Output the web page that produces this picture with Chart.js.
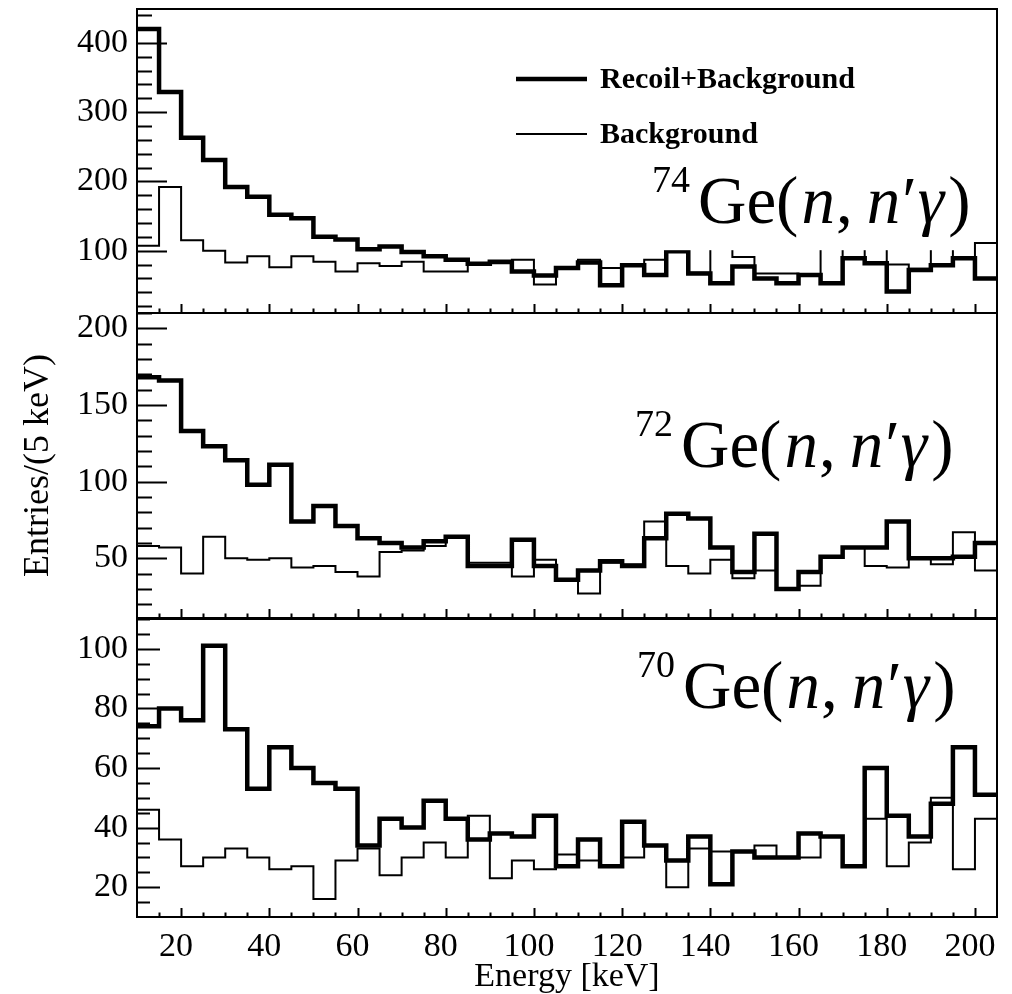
<!DOCTYPE html>
<html>
<head>
<meta charset="utf-8">
<script src="https://cdn.jsdelivr.net/npm/chart.js@4.4.1/dist/chart.umd.min.js"></script>
<style>
  html, body { margin: 0; padding: 0; background: #fff; }
  #wrap { position: relative; width: 1012px; height: 994px; }
  canvas { position: absolute; left: 0; top: 0; }
</style>
</head>
<body>
<div id="wrap">
  <canvas id="ge74" width="1012" height="994"></canvas>
  <canvas id="ge72" width="1012" height="994"></canvas>
  <canvas id="ge70" width="1012" height="994"></canvas>
</div>
<script>
// Lower edges of the 5 keV energy bins, and the upper edge of the last bin
const binLow = [10, 15, 20, 25, 30, 35, 40, 45, 50, 55, 60, 65, 70, 75, 80, 85, 90, 95, 100,
                105, 110, 115, 120, 125, 130, 135, 140, 145, 150, 155, 160, 165, 170, 175,
                180, 185, 190, 195, 200];
const binHigh = 205;
const energyTicks = [20, 40, 60, 80, 100, 120, 140, 160, 180, 200];

// 74Ge(n,n'gamma): entries per bin
const ge74Total = [420, 329, 263, 231, 192, 178, 152, 147, 120, 116, 102, 106, 98, 92, 87, 81, 84, 70, 64,
                   75, 83, 50, 79, 65, 99, 67, 53, 77, 60, 53, 65, 53, 89, 82, 41, 72, 79, 89, 60];
const ge74Bkg   = [107, 192, 115, 100, 83, 92, 76, 92, 84, 70, 82, 78, 84, 70, 70, 82, 82, 87, 51,
                   75, 87, 75, 79, 87, 100, 68, 108, 91, 67, 67, 65, 108, 88, 108, 80, 74, 108, 89, 111];
const ge74Ticks = [100, 200, 300, 400];

// 72Ge(n,n'gamma)
const ge72Total = [168, 166, 133, 123, 114, 98, 111, 74, 84, 71, 63, 60, 57, 61, 64, 45, 45, 62, 45,
                   36, 42, 48, 45, 63, 79, 76, 57, 41, 66, 30, 41, 51, 57, 57, 74, 50, 50, 51, 60];
const ge72Bkg   = [58, 57, 40, 64, 50, 49, 50, 44, 45, 41, 38, 54, 55, 58, 64, 47, 47, 38, 49,
                   36, 27, 47, 46, 74, 45, 40, 49, 37, 42, 30, 32, 51, 57, 45, 44, 50, 46, 67, 42];
const ge72Ticks = [50, 100, 150, 200];

// 70Ge(n,n'gamma)
const ge70Total = [74, 80, 76, 101, 73, 53, 67, 60, 55, 53, 34, 43, 40, 49, 43, 36, 38, 37, 44,
                   27, 36, 27, 42, 34, 29, 37, 21, 32, 30, 30, 38, 37, 27, 60, 44, 37, 48, 67, 51];
const ge70Bkg   = [46, 36, 27, 30, 33, 30, 26, 27, 16, 29, 33, 24, 30, 35, 30, 44, 23, 29, 26,
                   31, 29, 27, 30, 34, 20, 33, 32, 32, 34, 30, 30, 37, 27, 43, 27, 35, 50, 26, 43];
const ge70Ticks = [20, 40, 60, 80, 100];

const SERIF = '"Liberation Serif", "Times New Roman", serif';

// histogram outline: one point per lower edge, plus the closing upper edge
function histPoints(values) {
  const pts = binLow.map((e, i) => ({ x: e, y: values[i] }));
  pts.push({ x: binHigh, y: values[values.length - 1] });
  return pts;
}

function drawReaction(ctx, r) {
  ctx.fillStyle = '#000';
  ctx.textAlign = 'left';
  ctx.textBaseline = 'alphabetic';
  let x = r.x;
  ctx.font = '38px ' + SERIF;
  ctx.fillText(r.mass, x, r.base - 31);
  x += ctx.measureText(r.mass).width + 8;
  const pieces = [
    ['Ge(', '', 3], ['n', 'italic ', 1], [',', '', 14], ['n', 'italic ', 2],
    ['\u2032', '', 1], ['\u03b3', 'italic ', 4], [')', '', 0]
  ];
  for (const [t, st, gap] of pieces) {
    ctx.font = st + '67px ' + SERIF;
    ctx.fillText(t, x, r.base);
    x += ctx.measureText(t).width + gap;
  }
}

const decor = {
  id: 'decor',
  afterDraw(chart, args, o) {
    const { ctx, chartArea: a } = chart;
    const xs = chart.scales.x, ys = chart.scales.y;
    ctx.save();

    // white pad behind the reaction label
    if (o.mask) {
      const x0 = xs.getPixelForValue(o.mask.from), x1 = xs.getPixelForValue(o.mask.to);
      const y0 = ys.getPixelForValue(o.mask.top), y1 = ys.getPixelForValue(o.mask.bottom);
      ctx.fillStyle = '#fff';
      ctx.fillRect(x0, y0, x1 - x0, y1 - y0);
    }

    // key
    if (o.key) {
      chart.data.datasets.forEach((ds, i) => {
        const k = o.key[i];
        ctx.strokeStyle = '#000';
        ctx.lineWidth = ds.borderWidth;
        ctx.beginPath();
        ctx.moveTo(k.x0, k.y);
        ctx.lineTo(k.x1, k.y);
        ctx.stroke();
        ctx.fillStyle = '#000';
        ctx.font = 'bold 30px ' + SERIF;
        ctx.textAlign = 'left';
        ctx.textBaseline = 'alphabetic';
        ctx.fillText(ds.label, k.tx, k.y + 9);
      });
    }

    if (o.reaction) drawReaction(ctx, o.reaction);

    // tick marks, drawn inside the frame
    ctx.strokeStyle = '#000';
    ctx.lineWidth = 2;
    ctx.beginPath();
    for (let v = 15; v < binHigh; v += 5) {
      const px = Math.round(xs.getPixelForValue(v)) + 0.5;
      const len = (v % 20 === 0) ? 9 : 4.5;
      ctx.moveTo(px, a.bottom);
      ctx.lineTo(px, a.bottom - len);
    }
    for (let v = o.yMinor; v <= ys.max; v += o.yMinor) {
      if (v <= ys.min) continue;
      const py = Math.round(ys.getPixelForValue(v)) + 0.5;
      const len = (v % o.yMajor === 0) ? o.majLen : o.minLen;
      ctx.moveTo(a.left, py);
      ctx.lineTo(a.left + len, py);
    }
    ctx.stroke();

    // frame
    ctx.strokeRect(a.left, a.top, a.right - a.left, a.bottom - a.top);
    ctx.restore();
  }
};

function makePanel(id, p) {
  const showX = !!p.showX;
  return new Chart(document.getElementById(id), {
    type: 'line',
    data: {
      datasets: [
        { label: 'Recoil+Background', data: histPoints(p.total), borderColor: '#000',
          borderWidth: 4.5, stepped: 'before', pointRadius: 0, fill: false, borderJoinStyle: 'miter' },
        { label: 'Background', data: histPoints(p.bkg), borderColor: '#000',
          borderWidth: 2, stepped: 'before', pointRadius: 0, fill: false, borderJoinStyle: 'miter' }
      ]
    },
    options: {
      responsive: false,
      animation: false,
      events: [],
      layout: { padding: { top: p.top, bottom: p.padBottom, left: 0, right: 15 } },
      plugins: {
        legend: { display: false },
        tooltip: { enabled: false },
        decor: p.decor
      },
      scales: {
        x: {
          type: 'linear', min: 10, max: binHigh, display: showX,
          grid: { display: false, drawTicks: false }, border: { display: false },
          afterBuildTicks: s => { s.ticks = energyTicks.map(v => ({ value: v })); },
          afterFit: s => {
            if (showX) s.height = 77;
            s.paddingLeft = 0; s.paddingRight = 0;
          },
          ticks: { color: '#000', font: { family: SERIF, size: 34 }, padding: 10,
                   labelOffset: -5, maxRotation: 0, autoSkip: false },
          title: { display: showX, text: 'Energy [keV]', color: '#000',
                   font: { family: SERIF, size: 34 }, padding: { top: 0, bottom: -3 } }
        },
        y: {
          type: 'linear', min: p.ymin, max: p.ymax,
          grid: { display: false, drawTicks: false }, border: { display: false },
          afterBuildTicks: s => { s.ticks = p.ticks.map(v => ({ value: v })); },
          afterFit: s => {
            s.width = 137;
            s.paddingTop = 0; s.paddingBottom = 0;
          },
          ticks: { color: '#000', font: { family: SERIF, size: 34 }, padding: 9 },
          title: { display: !!p.yTitle, text: p.yTitle || '', color: '#000',
                   font: { family: SERIF, size: 36 }, padding: { top: 17, bottom: 0 } }
        }
      }
    },
    plugins: [decor]
  });
}

makePanel('ge74', {
  total: ge74Total, bkg: ge74Bkg, ticks: ge74Ticks, ymin: 10, ymax: 449,
  top: 9, padBottom: 994 - 313,
  decor: {
    yMinor: 20, yMajor: 100, majLen: 30, minLen: 15,
    mask: { from: 124, to: 199.5, top: 330, bottom: 100.7 },
    key: [ { x0: 516, x1: 587, y: 79, tx: 600 }, { x0: 516, x1: 587, y: 134, tx: 600 } ],
    reaction: { mass: '74', x: 652, base: 223 }
  }
});

makePanel('ge72', {
  total: ge72Total, bkg: ge72Bkg, ticks: ge72Ticks, ymin: 11, ymax: 210,
  top: 313, padBottom: 994 - 618, yTitle: 'Entries/(5 keV)',
  decor: {
    yMinor: 10, yMajor: 50, majLen: 30, minLen: 15,
    reaction: { mass: '72', x: 635, base: 467 }
  }
});

makePanel('ge70', {
  total: ge70Total, bkg: ge70Bkg, ticks: ge70Ticks, ymin: 10, ymax: 110,
  top: 619, padBottom: 0, showX: true,
  decor: {
    yMinor: 5, yMajor: 20, majLen: 23, minLen: 13,
    reaction: { mass: '70', x: 637, base: 708 }
  }
});
</script>
</body>
</html>
